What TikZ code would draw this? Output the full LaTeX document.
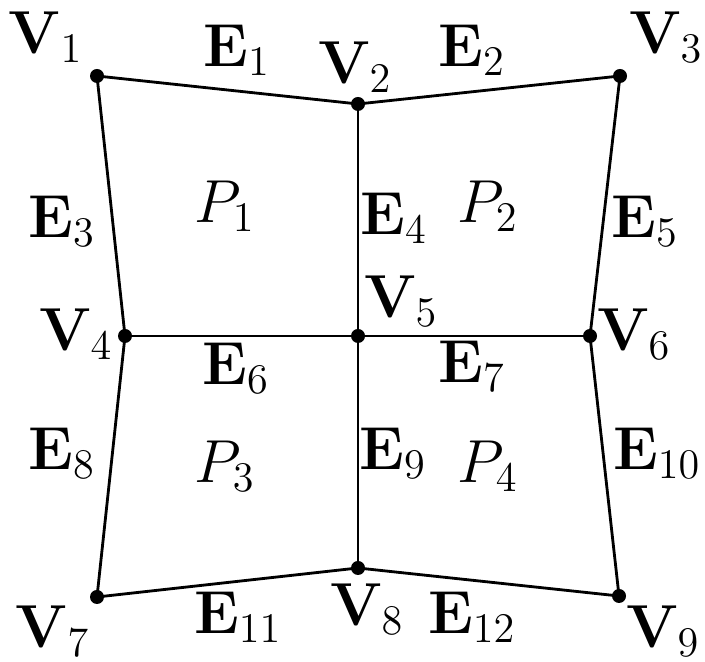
\documentclass[tikz,border=0pt]{standalone}
\usepackage{amsmath, amssymb}
\usepackage{xcolor}
\usepackage{tikz}
\usetikzlibrary{positioning,calc}
\tikzset{
  vertexdot/.style={
    circle,
    fill=black,
    inner sep=0pt,
    minimum size=0.14cm
  },
  meshedge/.style={
    draw=black,
    line width=0.8pt
  },
  meshlabel/.style={
    inner sep=0pt,
    font=\fontsize{17}{20}\selectfont
  }
}

\begin{document}
\begin{tikzpicture}
  \useasboundingbox (0,0) rectangle (7.05,6.62);
  % vertices
  \node[vertexdot] (v1) at (0.97,5.86) {};
  \node[vertexdot] (v2) at (3.58,5.58) {};
  \node[vertexdot] (v3) at (6.20,5.86) {};
  \node[vertexdot] (v4) at (1.25,3.26) {};
  \node[vertexdot] (v5) at (3.58,3.26) {};
  \node[vertexdot] (v6) at (5.90,3.26) {};
  \node[vertexdot] (v7) at (0.97,0.65) {};
  \node[vertexdot] (v8) at (3.58,0.94) {};
  \node[vertexdot] (v9) at (6.19,0.66) {};
  % edges
  \draw[meshedge] (v1.center) -- (v2.center) -- (v3.center);
  \draw[meshedge] (v4.center) -- (v5.center) -- (v6.center);
  \draw[meshedge] (v7.center) -- (v8.center) -- (v9.center);
  \draw[meshedge] (v1.center) -- (v4.center) -- (v7.center);
  \draw[meshedge] (v2.center) -- (v5.center) -- (v8.center);
  \draw[meshedge] (v3.center) -- (v6.center) -- (v9.center);
  % vertex labels
  \node[meshlabel] (lv1) at (0.46,6.25) {$\mathbf{V}_1$};
  \node[meshlabel] (lv2) at (3.55,5.95) {$\mathbf{V}_2$};
  \node[meshlabel] (lv3) at (6.66,6.25) {$\mathbf{V}_3$};
  \node[meshlabel] (lv4) at (0.76,3.28) {$\mathbf{V}_4$};
  \node[meshlabel] (lv5) at (4.01,3.61) {$\mathbf{V}_5$};
  \node[meshlabel] (lv6) at (6.34,3.28) {$\mathbf{V}_6$};
  \node[meshlabel] (lv7) at (0.53,0.31) {$\mathbf{V}_7$};
  \node[meshlabel] (lv8) at (3.67,0.53) {$\mathbf{V}_8$};
  \node[meshlabel] (lv9) at (6.63,0.31) {$\mathbf{V}_9$};
  % edge labels
  \node[meshlabel] (le1) at (2.37,6.12) {$\mathbf{E}_1$};
  \node[meshlabel] (le2) at (4.72,6.12) {$\mathbf{E}_2$};
  \node[meshlabel] (le3) at (0.62,4.41) {$\mathbf{E}_3$};
  \node[meshlabel] (le4) at (3.94,4.44) {$\mathbf{E}_4$};
  \node[meshlabel] (le5) at (6.45,4.41) {$\mathbf{E}_5$};
  \node[meshlabel] (le6) at (2.36,2.94) {$\mathbf{E}_6$};
  \node[meshlabel] (le7) at (4.72,2.96) {$\mathbf{E}_7$};
  \node[meshlabel] (le8) at (0.62,2.09) {$\mathbf{E}_8$};
  \node[meshlabel] (le9) at (3.93,2.09) {$\mathbf{E}_9$};
  \node[meshlabel] (le10) at (6.57,2.09) {$\mathbf{E}_{10}$};
  \node[meshlabel] (le11) at (2.38,0.45) {$\mathbf{E}_{11}$};
  \node[meshlabel] (le12) at (4.72,0.45) {$\mathbf{E}_{12}$};
  % patch labels
  \node[meshlabel] (p1) at (2.25,4.56) {$P_1$};
  \node[meshlabel] (p2) at (4.88,4.56) {$P_2$};
  \node[meshlabel] (p3) at (2.25,1.96) {$P_3$};
  \node[meshlabel] (p4) at (4.88,1.96) {$P_4$};
\end{tikzpicture}
\end{document}
